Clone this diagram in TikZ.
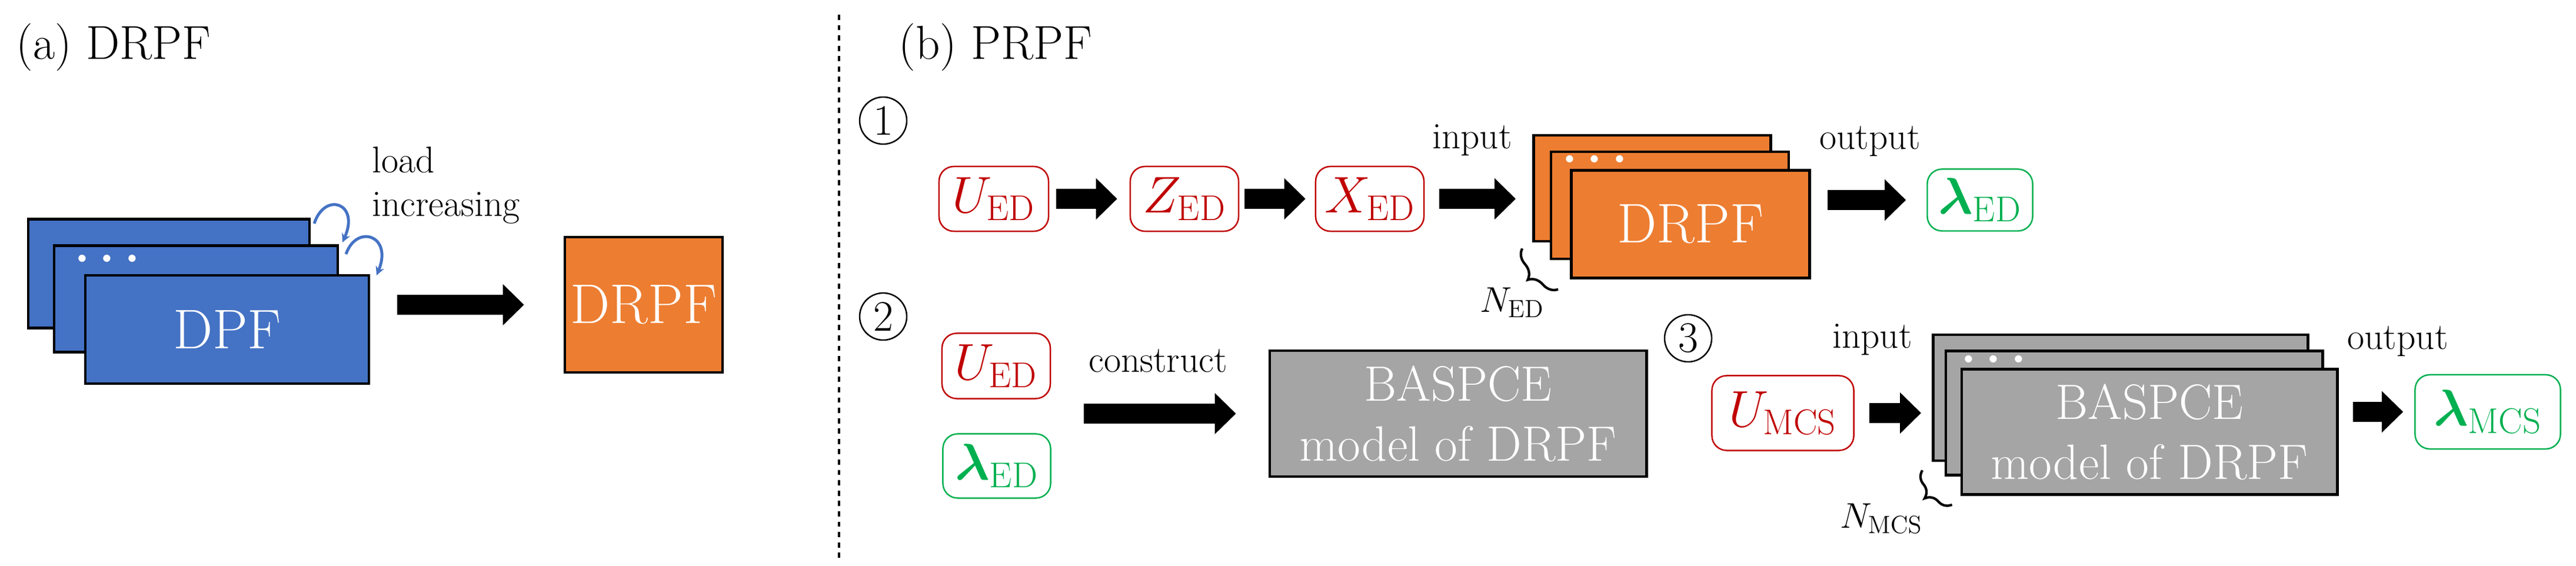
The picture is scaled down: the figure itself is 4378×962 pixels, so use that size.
\documentclass[tikz,border=0pt]{standalone}
\usepackage{amsmath}
\usepackage{bm}
\usepackage{tikz}
\usetikzlibrary{positioning, calc, arrows.meta, decorations.pathreplacing}
\definecolor{cardblue}{HTML}{4472C4}
\definecolor{cardorange}{HTML}{ED7D31}
\definecolor{cardgray}{HTML}{A5A5A5}
\definecolor{varred}{HTML}{C00000}
\definecolor{vargreen}{HTML}{00B050}
\newcommand{\lbl}{\fontsize{18}{21}\selectfont}
\newcommand{\var}{\fontsize{25}{28}\selectfont}

\tikzset{
  card/.style={draw=black, line width=1.3pt, rectangle, inner sep=0pt},
  redbox/.style={draw=varred, text=varred, line width=0.7pt, rounded corners=0.25cm, inner sep=0pt, font=\var},
  greenbox/.style={draw=vargreen, text=vargreen, line width=0.7pt, rounded corners=0.25cm, inner sep=0pt, font=\var},
  fat/.style={line width=0.34cm, -{Triangle[length=0.36cm, width=0.68cm]}},
  num/.style={draw, circle, line width=0.7pt, minimum size=0.8cm, inner sep=0pt, font=\fontsize{21}{24}\selectfont},
  curl/.style={draw=cardblue, line width=1.4pt, -{Stealth[length=0.15cm, width=0.15cm]}},
  dots/.style={text=white, font=\fontsize{13}{13}\selectfont, inner sep=0pt},
  brc/.style={line width=1.2pt, decorate, decoration={brace, amplitude=8pt, mirror}}
}

\begin{document}
\begin{tikzpicture}[x=0.01cm, y=-0.01cm]
      \useasboundingbox (0,0) rectangle (4378,962);

      % headings
      \node[anchor=west, font=\fontsize{23}{26}\selectfont] (titleA) at (15,80) {(a) DRPF};
      \node[anchor=west, font=\fontsize{23}{26}\selectfont] (titleB) at (1515,80) {(b) PRPF};
      \coordinate (sepT) at (1426,25);
      \coordinate (sepB) at (1426,955);
      \draw[line width=1.2pt, dash pattern=on 2.5pt off 2.5pt] (sepT) -- (sepB);

      % (a)
      \node[card, fill=cardblue, minimum width=4.78cm, minimum height=1.85cm] (DPF1) at (287,465) {};
      \node[card, fill=cardblue, minimum width=4.82cm, minimum height=1.81cm] (DPF2) at (333,508) {};
      \node[card, fill=cardblue, minimum width=4.82cm, minimum height=1.84cm, text=white, font=\fontsize{27}{30}\selectfont] (DPF3) at (386,560) {DPF};
      \node[dots] (dotsA) at (182,442) {\textbullet\,\textbullet\,\textbullet};
      \node[anchor=west, align=left, font=\lbl] (load) at (620,315) {load\\increasing};
      \draw[curl] (534,380) .. controls (552,325) and (612,345) .. (582,412);
      \draw[curl] (588,432) .. controls (606,380) and (668,400) .. (640,468);
      \node[card, fill=cardorange, minimum width=2.68cm, minimum height=2.30cm, text=white, font=\fontsize{27}{30}\selectfont] (DRPFa) at (1094,518) {DRPF};
      \draw[fat, shorten <=0.46cm, shorten >=0.67cm] (DPF3.east |- DRPFa) -- (DRPFa);

      % (b) step 1
      \node[num] (one) at (1501,205) {1};
      \node[redbox, minimum width=1.86cm, minimum height=1.10cm] (UED1) at (1689,338) {$U_{\mathrm{ED}}$};
      \node[redbox, minimum width=1.84cm, minimum height=1.10cm] (ZED1) at (2013,338) {$Z_{\mathrm{ED}}$};
      \node[redbox, minimum width=1.84cm, minimum height=1.10cm] (XED1) at (2328,338) {$X_{\mathrm{ED}}$};
      \node[card, fill=cardorange, minimum width=4.03cm, minimum height=1.80cm] (DRPF1) at (2808,320) {};
      \node[card, fill=cardorange, minimum width=4.04cm, minimum height=1.82cm] (DRPF2) at (2838,349) {};
      \node[card, fill=cardorange, minimum width=4.05cm, minimum height=1.83cm, text=white, font=\fontsize{27}{30}\selectfont] (DRPF3) at (2873,381) {DRPF};
      \node[dots] (dotsB) at (2710,273) {\textbullet\,\textbullet\,\textbullet};
      \node[greenbox, minimum width=1.79cm, minimum height=1.05cm] (LED1) at (3365,340) {$\bm{\lambda}_{\mathrm{ED}}$};
      \node[font=\lbl] (in1) at (2502,238) {input};
      \node[font=\lbl] (out1) at (3178,240) {output};
      \draw[fat, shorten <=0.12cm, shorten >=0.21cm] (UED1) -- (ZED1);
      \draw[fat, shorten <=0.09cm, shorten >=0.16cm] (ZED1) -- (XED1);
      \draw[fat, shorten <=0.25cm, shorten >=0.28cm] (XED1) -- (XED1 -| DRPF1.west);
      \draw[fat, shorten <=0.28cm, shorten >=0.35cm] (DRPF3.east |- LED1) -- (LED1);
      \draw[brc] ($(DRPF1.south west)+(-17,10)$) -- ($(DRPF3.south west)+(-20,17)$) coordinate (braceA);
      \node[anchor=north east, inner sep=0pt, font=\fontsize{18}{20}\selectfont] (NED) at (2625,488) {$N_{\mathrm{ED}}$};

      % (b) step 2
      \node[num] (two) at (1501,538) {2};
      \node[redbox, minimum width=1.84cm, minimum height=1.11cm] (UED2) at (1693,622) {$U_{\mathrm{ED}}$};
      \node[greenbox, minimum width=1.83cm, minimum height=1.09cm] (LED2) at (1694,792) {$\bm{\lambda}_{\mathrm{ED}}$};
      \node[font=\lbl] (cons) at (1968,613) {construct};
      \node[card, fill=cardgray, minimum width=6.40cm, minimum height=2.14cm, align=center, text=white, font=\fontsize{24}{29}\selectfont] (BAS) at (2478,703) {BASPCE\\model of DRPF};
      \coordinate (consS) at (1842,703);
      \draw[fat, shorten >=0.55cm] (consS) -- (BAS);

      % (b) step 3
      \node[num] (three) at (2869,575) {3};
      \node[redbox, minimum width=2.41cm, minimum height=1.27cm] (UMCS) at (3030,702) {$U_{\mathrm{MCS}}$};
      \node[card, fill=cardgray, minimum width=6.37cm, minimum height=2.14cm] (BAS1) at (3604,676) {};
      \node[card, fill=cardgray, minimum width=6.40cm, minimum height=2.11cm] (BAS2) at (3627,702) {};
      \node[card, fill=cardgray, minimum width=6.38cm, minimum height=2.13cm, align=center, text=white, font=\fontsize{24}{29}\selectfont] (BAS3) at (3653,734) {BASPCE\\model of DRPF};
      \node[dots] (dotsC) at (3388,613) {\textbullet\,\textbullet\,\textbullet};
      \node[greenbox, minimum width=2.47cm, minimum height=1.26cm] (LMCS) at (4228,700) {$\bm{\lambda}_{\mathrm{MCS}}$};
      \node[font=\lbl] (in3) at (3182,577) {input};
      \node[font=\lbl] (out3) at (4075,580) {output};
      \draw[fat, shorten <=0.25cm, shorten >=0.18cm] (UMCS) -- (UMCS -| BAS1.west);
      \draw[fat, shorten <=0.24cm, shorten >=0.19cm] (BAS3.east |- LMCS) -- (LMCS);
      \draw[brc] ($(BAS1.south west)+(-16,14)$) -- ($(BAS3.south west)+(-14,15)$) coordinate (braceB);
      \node[anchor=north east, inner sep=0pt, font=\fontsize{18}{20}\selectfont] (NMCS) at (3268,855) {$N_{\mathrm{MCS}}$};
    \end{tikzpicture}
\end{document}
